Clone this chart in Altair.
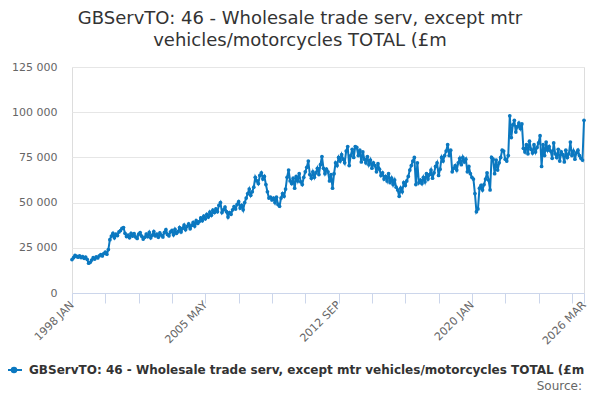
import altair as alt
import pandas as pd

SERIES = "GBServTO: 46 - Wholesale trade serv, except mtr vehicles/motorcycles TOTAL (£m"
TITLE_LINES = ["GBServTO: 46 - Wholesale trade serv, except mtr", "vehicles/motorcycles TOTAL (£m"]
MONTHS = ["JAN", "FEB", "MAR", "APR", "MAY", "JUN", "JUL", "AUG", "SEP", "OCT", "NOV", "DEC"]
YEARS = list(range(1998, 2027))

# values in £m thousands, one row per year (Jan..Dec)
v1998 = [18.5, 19.5, 20.8, 20.2, 19.8, 20.5, 19.6, 20.1, 19.2, 19.9, 18.6, 16.5]
v1999 = [17.0, 18.2, 19.5, 18.8, 20.0, 19.4, 20.6, 21.2, 20.5, 21.8, 22.6, 21.5]
v2000 = [24.0, 29.5, 31.5, 33.0, 30.5, 32.5, 31.8, 33.8, 34.5, 35.8, 36.2, 33.0]
v2001 = [31.2, 32.0, 30.6, 33.0, 31.5, 32.8, 31.0, 30.2, 32.5, 33.4, 31.4, 29.8]
v2002 = [30.8, 32.6, 31.2, 33.5, 30.5, 32.0, 34.0, 31.6, 32.5, 30.9, 33.2, 32.0]
v2003 = [31.0, 33.5, 35.0, 32.4, 31.6, 33.8, 34.6, 32.2, 35.2, 33.0, 34.0, 36.2]
v2004 = [33.8, 35.8, 37.6, 35.0, 36.8, 38.2, 35.6, 37.4, 39.0, 37.0, 40.0, 38.5]
v2005 = [39.5, 41.5, 40.0, 42.5, 41.0, 43.5, 42.0, 44.8, 43.0, 45.8, 44.5, 46.5]
v2006 = [45.0, 48.5, 50.0, 44.5, 46.0, 47.5, 45.0, 42.0, 44.5, 43.5, 46.0, 47.8]
v2007 = [46.5, 49.0, 50.5, 47.0, 48.5, 46.0, 50.0, 52.5, 55.0, 57.5, 54.0, 56.0]
v2008 = [58.5, 64.0, 62.0, 60.5, 65.0, 66.5, 63.0, 64.5, 60.0, 56.0, 52.5, 53.0]
v2009 = [51.5, 52.5, 50.0, 53.0, 49.0, 48.0, 52.5, 55.0, 53.5, 57.5, 64.0, 68.0]
v2010 = [62.0, 60.5, 63.5, 58.0, 64.5, 62.0, 66.0, 61.5, 60.0, 64.0, 67.0, 69.5]
v2011 = [73.0, 65.5, 63.5, 67.0, 64.0, 66.5, 69.0, 65.5, 71.0, 75.5, 69.0, 66.0]
v2012 = [68.5, 67.0, 62.0, 65.5, 58.0, 66.0, 72.0, 70.5, 75.0, 73.0, 76.5, 74.0]
v2013 = [72.0, 78.5, 81.0, 70.5, 76.0, 79.5, 75.0, 81.0, 80.5, 76.0, 79.0, 72.5]
v2014 = [78.0, 74.0, 72.0, 75.5, 71.0, 73.5, 69.0, 72.0, 70.5, 67.0, 71.5, 68.5]
v2015 = [65.0, 66.5, 63.0, 64.5, 62.0, 66.0, 61.0, 63.5, 60.0, 62.5, 58.5, 57.0]
v2016 = [53.5, 58.0, 56.0, 61.0, 59.5, 62.0, 64.5, 68.0, 70.5, 73.0, 75.0, 60.0]
v2017 = [72.0, 61.0, 62.5, 60.5, 64.0, 61.5, 66.0, 63.0, 65.5, 68.0, 63.5, 66.5]
v2018 = [70.0, 72.0, 65.0, 68.5, 75.0, 73.0, 76.0, 78.5, 82.0, 76.0, 79.0, 67.0]
v2019 = [69.0, 70.5, 68.0, 72.0, 74.5, 71.0, 75.0, 72.5, 74.0, 67.0, 70.0, 66.0]
v2020 = [64.0, 63.0, 55.0, 45.0, 46.5, 58.0, 59.5, 57.0, 60.0, 63.0, 66.5, 62.5]
v2021 = [57.0, 75.0, 74.0, 66.0, 73.5, 68.0, 72.0, 75.0, 79.0, 78.5, 74.0, 73.0]
v2022 = [76.0, 98.0, 86.0, 93.0, 95.5, 89.0, 92.0, 94.0, 91.0, 93.5, 80.0, 78.0]
v2023 = [82.0, 77.0, 84.0, 79.5, 77.5, 82.0, 78.0, 80.5, 83.0, 87.0, 70.0, 82.0]
v2024 = [76.0, 83.5, 79.0, 81.0, 78.5, 74.5, 83.0, 77.0, 75.0, 79.5, 73.0, 78.0]
v2025 = [76.5, 72.5, 79.0, 75.0, 77.0, 83.5, 76.0, 78.5, 74.0, 77.5, 79.0, 76.0]
v2026 = [74.5, 73.5, 95.5]

ROWS = [v1998, v1999, v2000, v2001, v2002, v2003, v2004, v2005, v2006, v2007,
        v2008, v2009, v2010, v2011, v2012, v2013, v2014, v2015, v2016, v2017,
        v2018, v2019, v2020, v2021, v2022, v2023, v2024, v2025, v2026]

months, values = [], []
for y, row in zip(YEARS, ROWS):
    for m, v in zip(MONTHS, row):
        months.append(f"{y} {m}")
        values.append(v * 1000)

df = pd.DataFrame({"month": months, "value": values, "series": SERIES})

TICK_VALUES = [months[i] for i in range(0, len(months), 22)] + [months[-1]]
LABELED = ["1998 JAN", "2005 MAY", "2012 SEP", "2020 JAN", "2026 MAR"]
Y_TICKS = [0, 25000, 50000, 75000, 100000, 125000]

FONT = "DejaVu Sans"
BLUE = "#0b78c0"

label_expr = "indexof([" + ",".join(f"'{l}'" for l in LABELED) + "], datum.value) >= 0 ? datum.value : ''"

line = alt.Chart(df).mark_line(
    strokeWidth=2,
    point=alt.OverlayMarkDef(filled=True, size=14, color=BLUE),
).encode(
    x=alt.X("month:O", sort=None, title=None,
            scale=alt.Scale(type="point", padding=0),
            axis=alt.Axis(values=TICK_VALUES, labelExpr=label_expr, labelAngle=-45,
                          labelAlign="right", labelBaseline="middle",
                          labelFontSize=11, labelFont=FONT, labelColor="#666666",
                          domainColor="#ccd6eb", tickColor="#ccd6eb", tickSize=10,
                          labelPadding=0, grid=False, labelOverlap=False,
                          labelBound=False)),
    y=alt.Y("value:Q", title=None,
            scale=alt.Scale(domain=[0, 125000], nice=False, zero=True),
            axis=alt.Axis(values=Y_TICKS,
                          labelExpr="replace(format(datum.value, ','), ',', ' ')",
                          labelFontSize=11, labelFont=FONT, labelColor="#666666",
                          domain=False, ticks=False, labelPadding=15,
                          gridColor="#e6e6e6", gridWidth=1)),
    color=alt.Color("series:N", scale=alt.Scale(range=[BLUE]),
                    legend=alt.Legend(orient="none", legendX=-67, legendY=294,
                                      title=None, labelFontWeight="bold",
                                      labelFontSize=12, labelFont=FONT,
                                      labelColor="#333333", labelLimit=2000,
                                      symbolType="M-1,0L1,0M0,-0.28A0.28,0.28,0,1,1,0,0.28A0.28,0.28,0,1,1,0,-0.28Z",
                                      symbolSize=256, symbolStrokeWidth=2,
                                      symbolFillColor=BLUE, symbolStrokeColor=BLUE,
                                      labelOffset=6, padding=0)),
)

source = alt.Chart(pd.DataFrame({"t": ["Source:"]})).mark_text(
    align="right", baseline="middle", fontSize=12, font=FONT, color="#666666"
).encode(text="t:N", x=alt.value(510), y=alt.value(319))

chart = alt.layer(line, source).properties(
    width=512,
    height=226,
    autosize=alt.AutoSizeParams(type="none"),
    padding={"left": 64, "top": 59, "right": 8, "bottom": 99},
    title=alt.TitleParams(text=TITLE_LINES, anchor="middle", fontSize=18, font=FONT,
                          fontWeight="normal", color="#333333", dx=-28,
                          offset=11, lineHeight=22),
).configure_view(stroke=None).configure(background="white")

chart.save("out.html", embed_options={"renderer": "svg", "actions": False})
